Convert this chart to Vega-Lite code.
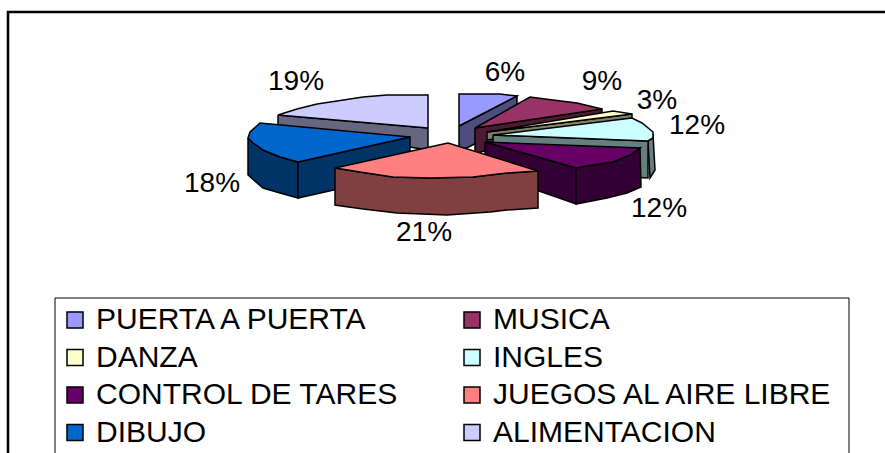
{"$schema":"https://vega.github.io/schema/vega-lite/v6.json","width":885,"height":453,"padding":0,"autosize":{"type":"none"},"background":"white","view":{"stroke":null},"config":{"view":{"stroke":null},"text":{"font":"Liberation Sans"}},
"encoding":{"x":{"field":"x","type":"quantitative","scale":{"domain":[0,885],"nice":false,"zero":false},"axis":null},"y":{"field":"y","type":"quantitative","scale":{"domain":[453,0],"nice":false,"zero":false},"axis":null}},
"layer":[
{"data":{"values":[{"x":8,"y":453,"i":1},{"x":8,"y":12,"i":2},{"x":885,"y":12,"i":3}]},"mark":{"type":"line","stroke":"black","strokeWidth":2.5},"encoding":{"order":{"field":"i"}}},
{"data":{"values":[{"x":55,"x2":849,"y":298,"y2":470}]},"mark":{"type":"rect","fill":"white","stroke":"black","strokeWidth":1,"clip":true},"encoding":{"x2":{"field":"x2"},"y2":{"field":"y2"}}},
{"data":{"values":[
{"part":"a1","cara":"ALIMENTACION lado","x":278,"y":115,"i":1},{"part":"a1","cara":"ALIMENTACION lado","x":428,"y":128,"i":2},{"part":"a1","cara":"ALIMENTACION lado","x":428,"y":150,"i":3},{"part":"a1","cara":"ALIMENTACION lado","x":278,"y":125,"i":4},{"part":"a1","cara":"ALIMENTACION lado","x":278,"y":115,"i":5},
{"part":"a2","cara":"ALIMENTACION","x":428,"y":128,"i":1},{"part":"a2","cara":"ALIMENTACION","x":428,"y":95,"i":2},{"part":"a2","cara":"ALIMENTACION","x":387,"y":95,"i":3},{"part":"a2","cara":"ALIMENTACION","x":363,"y":97,"i":4},{"part":"a2","cara":"ALIMENTACION","x":337,"y":101,"i":5},{"part":"a2","cara":"ALIMENTACION","x":317,"y":104,"i":6},{"part":"a2","cara":"ALIMENTACION","x":297,"y":109,"i":7},{"part":"a2","cara":"ALIMENTACION","x":278,"y":115,"i":8},{"part":"a2","cara":"ALIMENTACION","x":428,"y":128,"i":9},
{"part":"d1","cara":"DIBUJO lado","x":248,"y":138,"i":1},{"part":"d1","cara":"DIBUJO lado","x":248,"y":175,"i":2},{"part":"d1","cara":"DIBUJO lado","x":263,"y":188,"i":3},{"part":"d1","cara":"DIBUJO lado","x":280,"y":193,"i":4},{"part":"d1","cara":"DIBUJO lado","x":298,"y":198,"i":5},{"part":"d1","cara":"DIBUJO lado","x":298,"y":162,"i":6},{"part":"d1","cara":"DIBUJO lado","x":280,"y":157,"i":7},{"part":"d1","cara":"DIBUJO lado","x":263,"y":150,"i":8},{"part":"d1","cara":"DIBUJO lado","x":248,"y":138,"i":9},
{"part":"d2","cara":"DIBUJO lado","x":298,"y":162,"i":1},{"part":"d2","cara":"DIBUJO lado","x":410,"y":137,"i":2},{"part":"d2","cara":"DIBUJO lado","x":410,"y":173,"i":3},{"part":"d2","cara":"DIBUJO lado","x":298,"y":198,"i":4},{"part":"d2","cara":"DIBUJO lado","x":298,"y":162,"i":5},
{"part":"d3","cara":"DIBUJO","x":410,"y":137,"i":1},{"part":"d3","cara":"DIBUJO","x":298,"y":162,"i":2},{"part":"d3","cara":"DIBUJO","x":280,"y":157,"i":3},{"part":"d3","cara":"DIBUJO","x":263,"y":150,"i":4},{"part":"d3","cara":"DIBUJO","x":253,"y":143,"i":5},{"part":"d3","cara":"DIBUJO","x":248,"y":138,"i":6},{"part":"d3","cara":"DIBUJO","x":250,"y":132,"i":7},{"part":"d3","cara":"DIBUJO","x":260,"y":123,"i":8},{"part":"d3","cara":"DIBUJO","x":410,"y":137,"i":9},
{"part":"p1","cara":"PUERTA A PUERTA lado","x":459,"y":126,"i":1},{"part":"p1","cara":"PUERTA A PUERTA lado","x":517,"y":96,"i":2},{"part":"p1","cara":"PUERTA A PUERTA lado","x":517,"y":122,"i":3},{"part":"p1","cara":"PUERTA A PUERTA lado","x":459,"y":152,"i":4},{"part":"p1","cara":"PUERTA A PUERTA lado","x":459,"y":126,"i":5},
{"part":"p2","cara":"PUERTA A PUERTA","x":459,"y":126,"i":1},{"part":"p2","cara":"PUERTA A PUERTA","x":459,"y":94,"i":2},{"part":"p2","cara":"PUERTA A PUERTA","x":500,"y":94,"i":3},{"part":"p2","cara":"PUERTA A PUERTA","x":517,"y":96,"i":4},{"part":"p2","cara":"PUERTA A PUERTA","x":459,"y":126,"i":5},
{"part":"m1","cara":"MUSICA lado","x":475,"y":128,"i":1},{"part":"m1","cara":"MUSICA lado","x":602,"y":109,"i":2},{"part":"m1","cara":"MUSICA lado","x":602,"y":113,"i":3},{"part":"m1","cara":"MUSICA lado","x":475,"y":154,"i":4},{"part":"m1","cara":"MUSICA lado","x":475,"y":128,"i":5},
{"part":"m2","cara":"MUSICA","x":475,"y":128,"i":1},{"part":"m2","cara":"MUSICA","x":530,"y":97,"i":2},{"part":"m2","cara":"MUSICA","x":553,"y":100,"i":3},{"part":"m2","cara":"MUSICA","x":577,"y":103,"i":4},{"part":"m2","cara":"MUSICA","x":602,"y":109,"i":5},{"part":"m2","cara":"MUSICA","x":475,"y":128,"i":6},
{"part":"z1","cara":"DANZA lado","x":487,"y":132,"i":1},{"part":"z1","cara":"DANZA lado","x":632,"y":114,"i":2},{"part":"z1","cara":"DANZA lado","x":632,"y":118,"i":3},{"part":"z1","cara":"DANZA lado","x":487,"y":140,"i":4},{"part":"z1","cara":"DANZA lado","x":487,"y":132,"i":5},
{"part":"z2","cara":"DANZA","x":487,"y":132,"i":1},{"part":"z2","cara":"DANZA","x":613,"y":111,"i":2},{"part":"z2","cara":"DANZA","x":632,"y":114,"i":3},{"part":"z2","cara":"DANZA","x":487,"y":132,"i":4},
{"part":"n1","cara":"INGLES lado","x":653,"y":134,"i":1},{"part":"n1","cara":"INGLES lado","x":655,"y":170,"i":2},{"part":"n1","cara":"INGLES lado","x":650,"y":178,"i":3},{"part":"n1","cara":"INGLES lado","x":648,"y":141,"i":4},{"part":"n1","cara":"INGLES lado","x":653,"y":134,"i":5},
{"part":"n2","cara":"INGLES lado","x":493,"y":135,"i":1},{"part":"n2","cara":"INGLES lado","x":648,"y":141,"i":2},{"part":"n2","cara":"INGLES lado","x":648,"y":178,"i":3},{"part":"n2","cara":"INGLES lado","x":493,"y":172,"i":4},{"part":"n2","cara":"INGLES lado","x":493,"y":135,"i":5},
{"part":"n3","cara":"INGLES","x":493,"y":135,"i":1},{"part":"n3","cara":"INGLES","x":632,"y":118,"i":2},{"part":"n3","cara":"INGLES","x":642,"y":123,"i":3},{"part":"n3","cara":"INGLES","x":653,"y":132,"i":4},{"part":"n3","cara":"INGLES","x":653,"y":138,"i":5},{"part":"n3","cara":"INGLES","x":648,"y":141,"i":6},{"part":"n3","cara":"INGLES","x":493,"y":135,"i":7},
{"part":"c1","cara":"CONTROL DE TARES lado","x":485,"y":142,"i":1},{"part":"c1","cara":"CONTROL DE TARES lado","x":576,"y":168,"i":2},{"part":"c1","cara":"CONTROL DE TARES lado","x":576,"y":204,"i":3},{"part":"c1","cara":"CONTROL DE TARES lado","x":485,"y":172,"i":4},{"part":"c1","cara":"CONTROL DE TARES lado","x":485,"y":142,"i":5},
{"part":"c2","cara":"CONTROL DE TARES lado","x":576,"y":168,"i":1},{"part":"c2","cara":"CONTROL DE TARES lado","x":593,"y":165,"i":2},{"part":"c2","cara":"CONTROL DE TARES lado","x":613,"y":162,"i":3},{"part":"c2","cara":"CONTROL DE TARES lado","x":630,"y":155,"i":4},{"part":"c2","cara":"CONTROL DE TARES lado","x":640,"y":148,"i":5},{"part":"c2","cara":"CONTROL DE TARES lado","x":641,"y":187,"i":6},{"part":"c2","cara":"CONTROL DE TARES lado","x":627,"y":193,"i":7},{"part":"c2","cara":"CONTROL DE TARES lado","x":607,"y":198,"i":8},{"part":"c2","cara":"CONTROL DE TARES lado","x":576,"y":204,"i":9},{"part":"c2","cara":"CONTROL DE TARES lado","x":576,"y":168,"i":10},
{"part":"c3","cara":"CONTROL DE TARES","x":485,"y":142,"i":1},{"part":"c3","cara":"CONTROL DE TARES","x":640,"y":148,"i":2},{"part":"c3","cara":"CONTROL DE TARES","x":630,"y":155,"i":3},{"part":"c3","cara":"CONTROL DE TARES","x":613,"y":162,"i":4},{"part":"c3","cara":"CONTROL DE TARES","x":593,"y":165,"i":5},{"part":"c3","cara":"CONTROL DE TARES","x":576,"y":168,"i":6},{"part":"c3","cara":"CONTROL DE TARES","x":485,"y":142,"i":7},
{"part":"j1","cara":"JUEGOS AL AIRE LIBRE lado","x":335,"y":168,"i":1},{"part":"j1","cara":"JUEGOS AL AIRE LIBRE lado","x":335,"y":205,"i":2},{"part":"j1","cara":"JUEGOS AL AIRE LIBRE lado","x":363,"y":209,"i":3},{"part":"j1","cara":"JUEGOS AL AIRE LIBRE lado","x":397,"y":213,"i":4},{"part":"j1","cara":"JUEGOS AL AIRE LIBRE lado","x":447,"y":215,"i":5},{"part":"j1","cara":"JUEGOS AL AIRE LIBRE lado","x":490,"y":212,"i":6},{"part":"j1","cara":"JUEGOS AL AIRE LIBRE lado","x":507,"y":210,"i":7},{"part":"j1","cara":"JUEGOS AL AIRE LIBRE lado","x":538,"y":208,"i":8},{"part":"j1","cara":"JUEGOS AL AIRE LIBRE lado","x":538,"y":171,"i":9},{"part":"j1","cara":"JUEGOS AL AIRE LIBRE lado","x":507,"y":173,"i":10},{"part":"j1","cara":"JUEGOS AL AIRE LIBRE lado","x":473,"y":177,"i":11},{"part":"j1","cara":"JUEGOS AL AIRE LIBRE lado","x":430,"y":178,"i":12},{"part":"j1","cara":"JUEGOS AL AIRE LIBRE lado","x":393,"y":177,"i":13},{"part":"j1","cara":"JUEGOS AL AIRE LIBRE lado","x":360,"y":172,"i":14},{"part":"j1","cara":"JUEGOS AL AIRE LIBRE lado","x":335,"y":168,"i":15},
{"part":"j2","cara":"JUEGOS AL AIRE LIBRE","x":448,"y":143,"i":1},{"part":"j2","cara":"JUEGOS AL AIRE LIBRE","x":538,"y":171,"i":2},{"part":"j2","cara":"JUEGOS AL AIRE LIBRE","x":507,"y":173,"i":3},{"part":"j2","cara":"JUEGOS AL AIRE LIBRE","x":473,"y":177,"i":4},{"part":"j2","cara":"JUEGOS AL AIRE LIBRE","x":430,"y":178,"i":5},{"part":"j2","cara":"JUEGOS AL AIRE LIBRE","x":393,"y":177,"i":6},{"part":"j2","cara":"JUEGOS AL AIRE LIBRE","x":360,"y":172,"i":7},{"part":"j2","cara":"JUEGOS AL AIRE LIBRE","x":335,"y":168,"i":8},{"part":"j2","cara":"JUEGOS AL AIRE LIBRE","x":448,"y":143,"i":9}
]},
"mark":{"type":"line","filled":true,"stroke":"black","strokeWidth":1.5,"strokeJoin":"miter"},
"encoding":{"order":{"field":"i"},"detail":{"field":"part"},
"color":{"field":"cara","type":"nominal","scale":{"domain":["PUERTA A PUERTA","MUSICA","DANZA","INGLES","CONTROL DE TARES","JUEGOS AL AIRE LIBRE","DIBUJO","ALIMENTACION","PUERTA A PUERTA lado","MUSICA lado","DANZA lado","INGLES lado","CONTROL DE TARES lado","JUEGOS AL AIRE LIBRE lado","DIBUJO lado","ALIMENTACION lado"],"range":["#9999FF","#993366","#FFFFCC","#CCFFFF","#660066","#FF8080","#0066CC","#CCCCFF","#4D4D80","#4D1A33","#808066","#668080","#330033","#804040","#003366","#666680"]},
"legend":{"values":["PUERTA A PUERTA","DANZA","CONTROL DE TARES","DIBUJO","MUSICA","INGLES","JUEGOS AL AIRE LIBRE","ALIMENTACION"],"title":null,"orient":"none","legendX":55,"legendY":298,"columns":2,"padding":7,"symbolType":"square","symbolSize":256,"symbolOffset":-2,"symbolStrokeColor":"black","symbolStrokeWidth":1.5,"symbolOpacity":1,"labelFont":"Liberation Sans","labelFontSize":30,"labelColor":"black","labelOffset":6,"labelLimit":500,"rowPadding":7.5,"columnPadding":60}}}},
{"data":{"values":[{"actividad":"PUERTA A PUERTA","pct":"6%","x":505,"y":73},{"actividad":"MUSICA","pct":"9%","x":602,"y":82},{"actividad":"DANZA","pct":"3%","x":657,"y":101},{"actividad":"INGLES","pct":"12%","x":697,"y":126},{"actividad":"CONTROL DE TARES","pct":"12%","x":659,"y":209},{"actividad":"JUEGOS AL AIRE LIBRE","pct":"21%","x":424,"y":233},{"actividad":"DIBUJO","pct":"18%","x":212,"y":184},{"actividad":"ALIMENTACION","pct":"19%","x":296,"y":82}]},
"mark":{"type":"text","font":"Liberation Sans","fontSize":28,"color":"black","baseline":"middle","align":"center"},
"encoding":{"text":{"field":"pct"}}}
]}
